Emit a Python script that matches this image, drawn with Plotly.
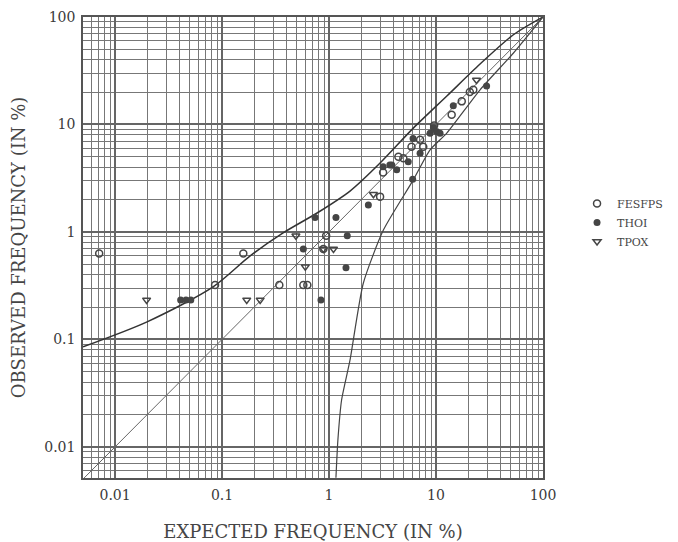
import plotly.graph_objects as go

# ---- data ----
fes_x = [0.0071, 0.086, 0.158, 0.343, 0.575, 0.627, 0.94, 0.885, 3.0, 3.2, 4.45, 4.95, 7.1, 7.6, 5.9, 14.0, 17.4, 20.7, 22.3, 9.6]
fes_y = [0.63, 0.32, 0.63, 0.32, 0.32, 0.32, 0.92, 0.695, 2.13, 3.57, 5.0, 4.85, 7.2, 6.2, 6.2, 12.3, 16.4, 20.0, 21.0, 9.8]

th_x = [0.041, 0.046, 0.051, 0.575, 0.74, 0.84, 1.16, 1.44, 1.48, 2.33, 3.2, 3.86, 4.29, 3.7, 5.5, 6.05, 6.1, 7.1, 8.8, 9.45, 10.1, 10.9, 14.5, 29.7]
th_y = [0.233, 0.233, 0.233, 0.695, 1.36, 0.233, 1.36, 0.465, 0.92, 1.78, 4.05, 4.2, 3.78, 4.2, 4.5, 3.09, 7.4, 5.4, 8.3, 9.3, 8.6, 8.3, 14.9, 22.8]

tp_x = [0.0197, 0.17, 0.227, 0.49, 0.6, 0.885, 1.1, 2.6, 23.9]
tp_y = [0.233, 0.233, 0.233, 0.92, 0.475, 0.695, 0.695, 2.24, 25.9]

diag_x = [0.005, 100]
diag_y = [0.005, 100]

upper_x = [0.00502, 0.0199, 0.0824, 0.183, 0.372, 0.773, 1.57, 3.0, 6.1, 12.7, 25.8, 52.5, 100]
upper_y = [0.0852, 0.1455, 0.308, 0.598, 0.979, 1.5, 2.4, 4.38, 9.2, 18.5, 36.5, 68, 100]

lower_x = [1.16, 1.21, 1.31, 1.57, 2.09, 3.22, 6.13, 8.8, 12.6, 25.8, 52.7, 100]
lower_y = [0.00516, 0.0116, 0.0273, 0.064, 0.333, 1.04, 3.05, 5.8, 8.3, 21, 46, 100]

x_ticks = [0.01, 0.1, 1, 10, 100]
x_ticktext = ["0.01", "0.1", "1", "10", "100"]
y_ticks = [0.01, 0.1, 1, 10, 100]
y_ticktext = ["0.01", "0.1", "1", "10", "100"]

FONT = "DejaVu Serif"
INK = "#454545"

fig = go.Figure()
fig.add_trace(go.Scatter(x=diag_x, y=diag_y, mode="lines", line=dict(color="#666", width=1), showlegend=False, hoverinfo="skip"))
fig.add_trace(go.Scatter(x=upper_x, y=upper_y, mode="lines", line=dict(color="#333", width=1.5, shape="spline", smoothing=0.8), showlegend=False, hoverinfo="skip"))
fig.add_trace(go.Scatter(x=lower_x, y=lower_y, mode="lines", line=dict(color="#444", width=1.2, shape="spline", smoothing=0.6), showlegend=False, hoverinfo="skip"))

fig.add_trace(go.Scatter(x=fes_x, y=fes_y, mode="markers", name="FESFPS",
                         marker=dict(symbol="circle-open", size=7, color=INK, line=dict(width=1.5))))
fig.add_trace(go.Scatter(x=th_x, y=th_y, mode="markers", name="THOI",
                         marker=dict(symbol="circle", size=7, color=INK)))
fig.add_trace(go.Scatter(x=tp_x, y=tp_y, mode="markers", name="TPOX",
                         marker=dict(symbol="triangle-down-open", size=7, color=INK, line=dict(width=1.5))))

axis_common = dict(
    type="log", showline=True, linecolor="#555", linewidth=1.5, mirror=True,
    showgrid=True, gridcolor="#666", gridwidth=1.5,
    minor=dict(dtick="D1", showgrid=True, gridcolor="#777", gridwidth=1, ticks=""),
    ticks="outside", ticklen=3, tickcolor="rgba(0,0,0,0)", zeroline=False,
    tickfont=dict(family=FONT, size=14, color="#3a3a3a"), automargin=False,
)
fig.update_xaxes(**axis_common, range=[-2.3, 2.0], tickvals=x_ticks, ticktext=x_ticktext,
                 title=dict(text="EXPECTED FREQUENCY (IN %)", font=dict(family=FONT, size=18, color=INK), standoff=24))
fig.update_yaxes(**axis_common, range=[-2.29, 2.0], tickvals=y_ticks, ticktext=y_ticktext,
                 title=dict(text="OBSERVED FREQUENCY (IN %)", font=dict(family=FONT, size=18, color=INK), standoff=20))

# page has an 8px body margin, so the figure is sized to fit the 678x542 window
fig.update_layout(
    width=670, height=534,
    margin=dict(l=75, r=135, t=9, b=64),
    plot_bgcolor="white", paper_bgcolor="white",
    font=dict(family=FONT, color=INK),
    legend=dict(x=1.074, y=0.627, xanchor="left", yanchor="top", font=dict(family=FONT, size=11, color=INK),
                itemwidth=30, tracegroupgap=0, bgcolor="rgba(0,0,0,0)"),
)
fig.write_html("out.html")
